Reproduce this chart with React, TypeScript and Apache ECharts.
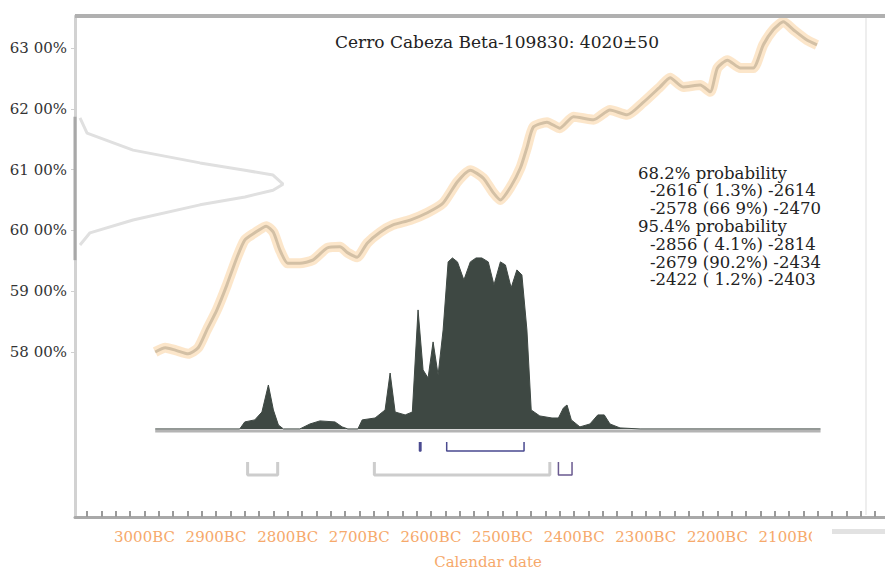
import React, { useEffect, useRef } from "react";
import * as echarts from "echarts";

// Calibration curve (calendar year, negative = BC) and radiocarbon value in %
const calYears = [-2985, -2971, -2957, -2939, -2925, -2913, -2899, -2885, -2871, -2860, -2846, -2830, -2820, -2811, -2800, -2783, -2765, -2745, -2727, -2716, -2703, -2689, -2671, -2653, -2629, -2605, -2583, -2563, -2545, -2527, -2513, -2503, -2489, -2475, -2466, -2457, -2438, -2420, -2401, -2373, -2350, -2326, -2304, -2280, -2266, -2248, -2224, -2210, -2200, -2186, -2168, -2150, -2136, -2122, -2108, -2094, -2075, -2061];
const calPct = [58.0, 58.07, 58.03, 57.97, 58.07, 58.36, 58.69, 59.1, 59.55, 59.84, 59.96, 60.07, 59.97, 59.68, 59.46, 59.46, 59.51, 59.71, 59.73, 59.63, 59.56, 59.79, 59.97, 60.09, 60.17, 60.29, 60.45, 60.8, 60.99, 60.86, 60.62, 60.5, 60.71, 61.03, 61.36, 61.7, 61.78, 61.68, 61.87, 61.82, 61.98, 61.9, 62.1, 62.36, 62.51, 62.36, 62.39, 62.28, 62.67, 62.8, 62.67, 62.67, 63.05, 63.3, 63.43, 63.3, 63.13, 63.05];

// Calibrated probability distribution (relative density)
const distYears = [-2985, -2867, -2860, -2846, -2836, -2827, -2820, -2813, -2806, -2783, -2769, -2755, -2734, -2724, -2716, -2702, -2696, -2678, -2664, -2657, -2650, -2636, -2626, -2618, -2611, -2604, -2597, -2590, -2583, -2576, -2570, -2563, -2554, -2545, -2537, -2529, -2520, -2512, -2503, -2496, -2488, -2480, -2473, -2466, -2460, -2448, -2431, -2422, -2415, -2410, -2404, -2392, -2378, -2367, -2358, -2350, -2336, -2308, -2056];
const distDens = [0, 0, 0.041, 0.053, 0.099, 0.257, 0.111, 0.023, 0, 0, 0.029, 0.047, 0.041, 0.012, 0, 0, 0.053, 0.064, 0.111, 0.327, 0.099, 0.082, 0.099, 0.696, 0.345, 0.298, 0.509, 0.316, 0.579, 0.977, 1.0, 0.977, 0.871, 0.977, 1.0, 1.0, 0.977, 0.842, 0.977, 0.959, 0.825, 0.93, 0.901, 0.579, 0.111, 0.076, 0.064, 0.064, 0.123, 0.14, 0.053, 0.012, 0.029, 0.082, 0.082, 0.029, 0.006, 0, 0];

// Measurement distribution drawn off the y axis (relative density, %)
const measDens = [0.024, 0.058, 0.279, 0.601, 0.817, 0.952, 1.0, 0.952, 0.817, 0.601, 0.279, 0.072, 0.024];
const measPct = [61.85, 61.6, 61.32, 61.11, 60.99, 60.91, 60.76, 60.66, 60.55, 60.42, 60.17, 59.96, 59.76];
const measAxisSpan = [61.87, 59.51];

// Ranges
const ranges68 = [[-2616, -2614], [-2578, -2470]];
const ranges95 = [[-2856, -2814], [-2679, -2434], [-2422, -2403]];

const xLabelYears = [-3000, -2900, -2800, -2700, -2600, -2500, -2400, -2300, -2200, -2100];
const xMinorTicks = Array.from({ length: 56 }, (_, i) => -3080 + i * 20);
const yLabelValues = [58, 59, 60, 61, 62, 63];

const titleText = "Cerro Cabeza Beta-109830: 4020±50";
const probLines = [
  "68.2% probability",
  "  -2616 ( 1.3%) -2614",
  "  -2578 (66 9%) -2470",
  "95.4% probability",
  "  -2856 ( 4.1%) -2814",
  "  -2679 (90.2%) -2434",
  "  -2422 ( 1.2%) -2403",
];

const SERIF = '"DejaVu Serif", "Liberation Serif", serif';
const ORANGE = "#f6a96b";

export default function App() {
  const ref = useRef<HTMLDivElement>(null);
  useEffect(() => {
    if (!ref.current) return;
    const chart = echarts.init(ref.current, null, { renderer: "svg" });

    const bracket = (r: number[], top: number, bot: number) => [
      [r[0], top], [r[0], bot], [r[1], bot], [r[1], top],
    ];

    const bracketSeries: any[] = [];
    ranges68.forEach((r) => {
      bracketSeries.push({
        type: "line", xAxisIndex: 0, yAxisIndex: 1, data: bracket(r, -0.076, -0.129),
        showSymbol: false, symbol: "none", silent: true,
        lineStyle: { color: "#4a4a90", width: 1.5 }, z: 5,
      });
    });
    ranges95.forEach((r, i) => {
      const faded = i < 2;
      bracketSeries.push({
        type: "line", xAxisIndex: 0, yAxisIndex: 1, data: bracket(r, -0.193, -0.269),
        showSymbol: false, symbol: "none", silent: true,
        lineStyle: { color: faded ? "#cdcdcd" : "#6a5a90", width: faded ? 3 : 1.5 }, z: 5,
      });
    });

    const textGraphics: any[] = [
      {
        type: "text", x: 497, y: 42, z: 50,
        style: { text: titleText, font: `17px ${SERIF}`, fill: "#222", textAlign: "center", textVerticalAlign: "middle", align: "center", verticalAlign: "middle" },
      },
      ...probLines.map((t, i) => ({
        type: "text", x: t.startsWith(" ") ? 650 : 638, y: 173 + i * 17.8, z: 50,
        style: { text: t.trim(), font: `16.5px ${SERIF}`, lineHeight: 17, fill: "#222", textVerticalAlign: "middle", verticalAlign: "middle" },
      })),
    ];

    chart.setOption({
      animation: false,
      backgroundColor: "#ffffff",
      grid: { left: 75, width: 810, top: 16, height: 501, containLabel: false, outerBoundsMode: "none" },
      xAxis: [
        {
          type: "value", min: -3097, max: -1966, position: "bottom",
          axisLine: { show: true, onZero: false, lineStyle: { color: "#a9a9a9", width: 3 } },
          axisTick: { show: true, inside: true, length: 6, customValues: xMinorTicks, lineStyle: { color: "#9a9a9a", width: 2 } },
          axisLabel: {
            customValues: xLabelYears, formatter: (v: number) => `${-v}BC`,
            color: ORANGE, fontFamily: SERIF, fontSize: 15, margin: 12,
          },
          splitLine: { show: false },
          name: "Calendar date", nameLocation: "middle", nameGap: 37,
          nameTextStyle: { color: ORANGE, fontFamily: SERIF, fontSize: 15, padding: [0, 0, 0, 16] },
        },
        { type: "value", min: 0, max: 3.894, show: false, axisLine: { onZero: false } },
      ],
      yAxis: [
        {
          type: "value", min: 55.286, max: 63.526,
          axisLine: { show: true, onZero: false, lineStyle: { color: "#d2d2d2", width: 3 } },
          axisTick: { show: true, customValues: yLabelValues, length: 4, lineStyle: { color: "#d0d0d0" } },
          axisLabel: {
            customValues: yLabelValues, formatter: (v: number) => `${v} 00%`,
            color: "#333", fontFamily: SERIF, fontSize: 15, margin: 8,
          },
          splitLine: { show: false },
        },
        { type: "value", min: -0.515, max: 2.415, show: false, axisLine: { onZero: false } },
      ],
      graphic: [
        { type: "rect", z: 40, shape: { x: 75, y: 14, width: 810, height: 4 }, style: { fill: "#b0b0b0" } },
        { type: "rect", z: 40, shape: { x: 865, y: 18, width: 2, height: 497 }, style: { fill: "#eeeeee" } },
        { type: "rect", z: 40, shape: { x: 812, y: 524, width: 73, height: 26 }, style: { fill: "#ffffff" } },
        { type: "rect", z: 41, shape: { x: 832, y: 529, width: 53, height: 5 }, style: { fill: "#e2e2e2" } },
        ...textGraphics,
      ],
      series: [
        {
          type: "line", xAxisIndex: 1, yAxisIndex: 0,
          data: measDens.map((d, i) => [d, measPct[i]]),
          showSymbol: false, symbol: "none", silent: true,
          lineStyle: { color: "#e0e0e0", width: 3 }, z: 1,
        },
        {
          type: "line", xAxisIndex: 1, yAxisIndex: 0,
          data: measAxisSpan.map((p) => [0, p]),
          showSymbol: false, symbol: "none", silent: true,
          lineStyle: { color: "#a8a8a8", width: 3 }, z: 3,
        },
        {
          type: "line", xAxisIndex: 0, yAxisIndex: 0,
          data: calYears.map((y, i) => [y, calPct[i]]),
          showSymbol: false, symbol: "none", silent: true, smooth: 0.2,
          lineStyle: { color: "rgba(250,205,150,0.5)", width: 10 }, z: 2,
        },
        {
          type: "line", xAxisIndex: 0, yAxisIndex: 0,
          data: calYears.map((y, i) => [y, calPct[i]]),
          showSymbol: false, symbol: "none", silent: true, smooth: 0.2,
          lineStyle: { color: "#d3c0a5", width: 3 }, z: 3,
        },
        {
          type: "line", xAxisIndex: 0, yAxisIndex: 1,
          data: [[distYears[0], -0.012], [distYears[distYears.length - 1], -0.012]],
          showSymbol: false, symbol: "none", silent: true,
          lineStyle: { color: "#b4b4b4", width: 3 }, z: 3,
        },
        {
          type: "line", xAxisIndex: 0, yAxisIndex: 1,
          data: distYears.map((y, i) => [y, distDens[i]]),
          showSymbol: false, symbol: "none", silent: true,
          lineStyle: { color: "#3e4843", width: 1 },
          areaStyle: { color: "#3e4843", opacity: 1 }, z: 4,
        },
        ...bracketSeries,
      ],
    });
    return () => chart.dispose();
  }, []);

  return (
    <div
      ref={ref}
      style={{ position: "fixed", left: 0, top: 0, width: 885, height: 569, background: "#fff" }}
    />
  );
}
